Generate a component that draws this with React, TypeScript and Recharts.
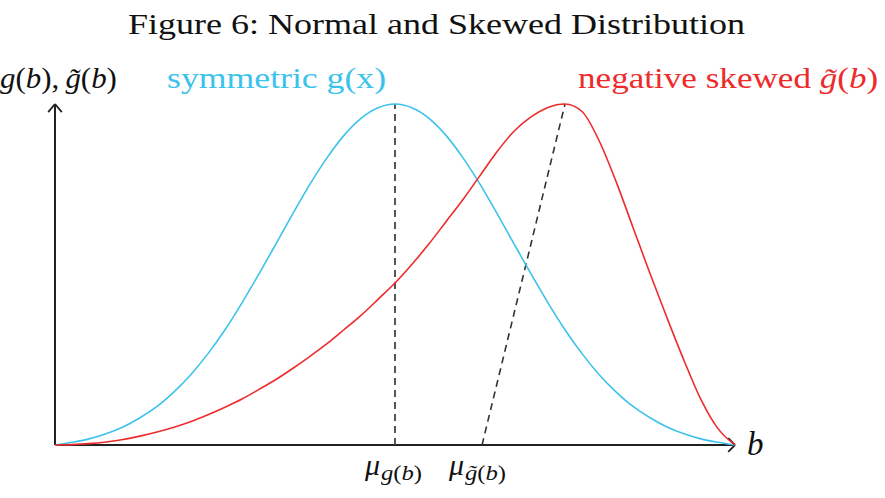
import { LineChart, Line, XAxis, YAxis, ReferenceLine } from "recharts"

// b positions along the horizontal axis
const bValues = [
  0, 0.25, 0.5, 0.75, 1, 1.25, 1.5, 1.75, 2, 2.25, 2.5, 2.75, 3, 3.25, 3.5, 3.75, 4, 4.25, 4.5, 4.75,
  5, 5.25, 5.5, 5.75, 6, 6.25, 6.5, 6.75, 7, 7.25, 7.5, 7.75, 8, 8.25, 8.5, 8.75, 9, 9.25, 9.5, 9.75, 10,
]
// symmetric g(x) (peak = 1)
const symmetric = [
  0, 0.008, 0.018, 0.033, 0.053, 0.08, 0.113, 0.156, 0.207, 0.268, 0.338, 0.417, 0.502, 0.59, 0.679, 0.765, 0.842, 0.908, 0.958, 0.989,
  1, 0.989, 0.958, 0.908, 0.842, 0.765, 0.679, 0.59, 0.502, 0.417, 0.338, 0.268, 0.207, 0.156, 0.113, 0.08, 0.053, 0.033, 0.018, 0.008, 0,
]
// negative skewed g~(b)
const skewed = [
  0, 0.001, 0.004, 0.009, 0.016, 0.026, 0.038, 0.052, 0.069, 0.089, 0.111, 0.135, 0.163, 0.192, 0.225, 0.26, 0.297, 0.338, 0.38, 0.427,
  0.475, 0.53, 0.59, 0.655, 0.72, 0.79, 0.86, 0.92, 0.962, 0.99, 1, 0.978, 0.893, 0.773, 0.638, 0.503, 0.373, 0.248, 0.133, 0.048, 0,
]

// means marked with dashed lines
const meanSymmetric = 5
const meanSkewed = 6.28
const modeSkewed = 7.5

const data = bValues.map((b, i) => ({ b, g: symmetric[i], gs: skewed[i] }))

const BLUE = "#3cc3ec"
const RED = "#ee2b2b"
const AXIS = "#222"
const serif = "'Liberation Serif', 'DejaVu Serif', serif"

const wide = (s: number) => ({ display: "inline-block", transform: `scaleX(${s})`, transformOrigin: "left center" })

export default function App() {
  return (
    <div style={{ position: "absolute", left: 0, top: 0, width: 885, height: 498, background: "#fff", fontFamily: serif, overflow: "hidden" }}>
      <div style={{ position: "absolute", left: 0, width: 873, top: 6, textAlign: "center", fontSize: 30, lineHeight: 1.2, color: "#111", whiteSpace: "nowrap", transform: "scaleX(1.2)" }}>
        Figure 6: Normal and Skewed Distribution
      </div>

      <div style={{ position: "absolute", left: 0, top: 60, fontSize: 30, lineHeight: 1.2, color: "#111", whiteSpace: "nowrap" }}>
        <span style={wide(1.03)}><i>g</i>(<i>b</i>),{"\u2009"}<i>g̃</i>(<i>b</i>)</span>
      </div>
      <div style={{ position: "absolute", left: 167, top: 60, fontSize: 30, lineHeight: 1.2, color: BLUE, whiteSpace: "nowrap" }}>
        <span style={wide(1.19)}>symmetric g(x)</span>
      </div>
      <div style={{ position: "absolute", left: 578, top: 60, fontSize: 30, lineHeight: 1.2, color: RED, whiteSpace: "nowrap" }}>
        <span style={wide(1.17)}>negative skewed <i>g̃</i>(<i>b</i>)</span>
      </div>

      <LineChart width={885} height={498} data={data} margin={{ top: 104, right: 150, bottom: 53, left: 55 }}>
        <XAxis dataKey="b" type="number" domain={[0, 10]} hide />
        <YAxis type="number" domain={[0, 1]} hide />

        {/* axes with arrow heads */}
        <ReferenceLine segment={[{ x: 0, y: 0 }, { x: 10, y: 0 }]} stroke={AXIS} strokeWidth={2} ifOverflow="visible" />
        <ReferenceLine segment={[{ x: 9.9, y: 0.02 }, { x: 10, y: 0 }]} stroke={AXIS} strokeWidth={1.8} ifOverflow="visible" />
        <ReferenceLine segment={[{ x: 9.9, y: -0.02 }, { x: 10, y: 0 }]} stroke={AXIS} strokeWidth={1.8} ifOverflow="visible" />
        <ReferenceLine segment={[{ x: 0, y: 0 }, { x: 0, y: 1 }]} stroke={AXIS} strokeWidth={2} ifOverflow="visible" />
        <ReferenceLine segment={[{ x: -0.1, y: 0.976 }, { x: 0, y: 1 }]} stroke={AXIS} strokeWidth={1.8} ifOverflow="visible" />
        <ReferenceLine segment={[{ x: 0.1, y: 0.976 }, { x: 0, y: 1 }]} stroke={AXIS} strokeWidth={1.8} ifOverflow="visible" />

        {/* means */}
        <ReferenceLine segment={[{ x: meanSymmetric, y: 0 }, { x: meanSymmetric, y: 1 }]} stroke="#444" strokeWidth={1.8} strokeDasharray="7 5" ifOverflow="visible" />
        <ReferenceLine segment={[{ x: meanSkewed, y: 0 }, { x: modeSkewed, y: 1 }]} stroke="#333" strokeWidth={1.6} strokeDasharray="7 5" ifOverflow="visible" />

        <Line type="monotone" dataKey="g" stroke={BLUE} strokeWidth={1.6} dot={false} isAnimationActive={false} />
        <Line type="monotone" dataKey="gs" stroke={RED} strokeWidth={1.6} dot={false} isAnimationActive={false} />
      </LineChart>

      <div style={{ position: "absolute", left: 747, top: 428, fontSize: 33, lineHeight: 1, color: "#111", fontStyle: "italic" }}>b</div>
      <div style={{ position: "absolute", left: 365, top: 450, fontSize: 30, lineHeight: 1, color: "#111", whiteSpace: "nowrap" }}>
        <i>μ</i>
        <span style={{ ...wide(1.12), fontSize: 22, position: "relative", top: 5, marginLeft: 1 }}><i>g</i>(<i>b</i>)</span>
      </div>
      <div style={{ position: "absolute", left: 449, top: 450, fontSize: 30, lineHeight: 1, color: "#111", whiteSpace: "nowrap" }}>
        <i>μ</i>
        <span style={{ ...wide(1.12), fontSize: 22, position: "relative", top: 5, marginLeft: 1 }}><i>g̃</i>(<i>b</i>)</span>
      </div>
    </div>
  )
}
